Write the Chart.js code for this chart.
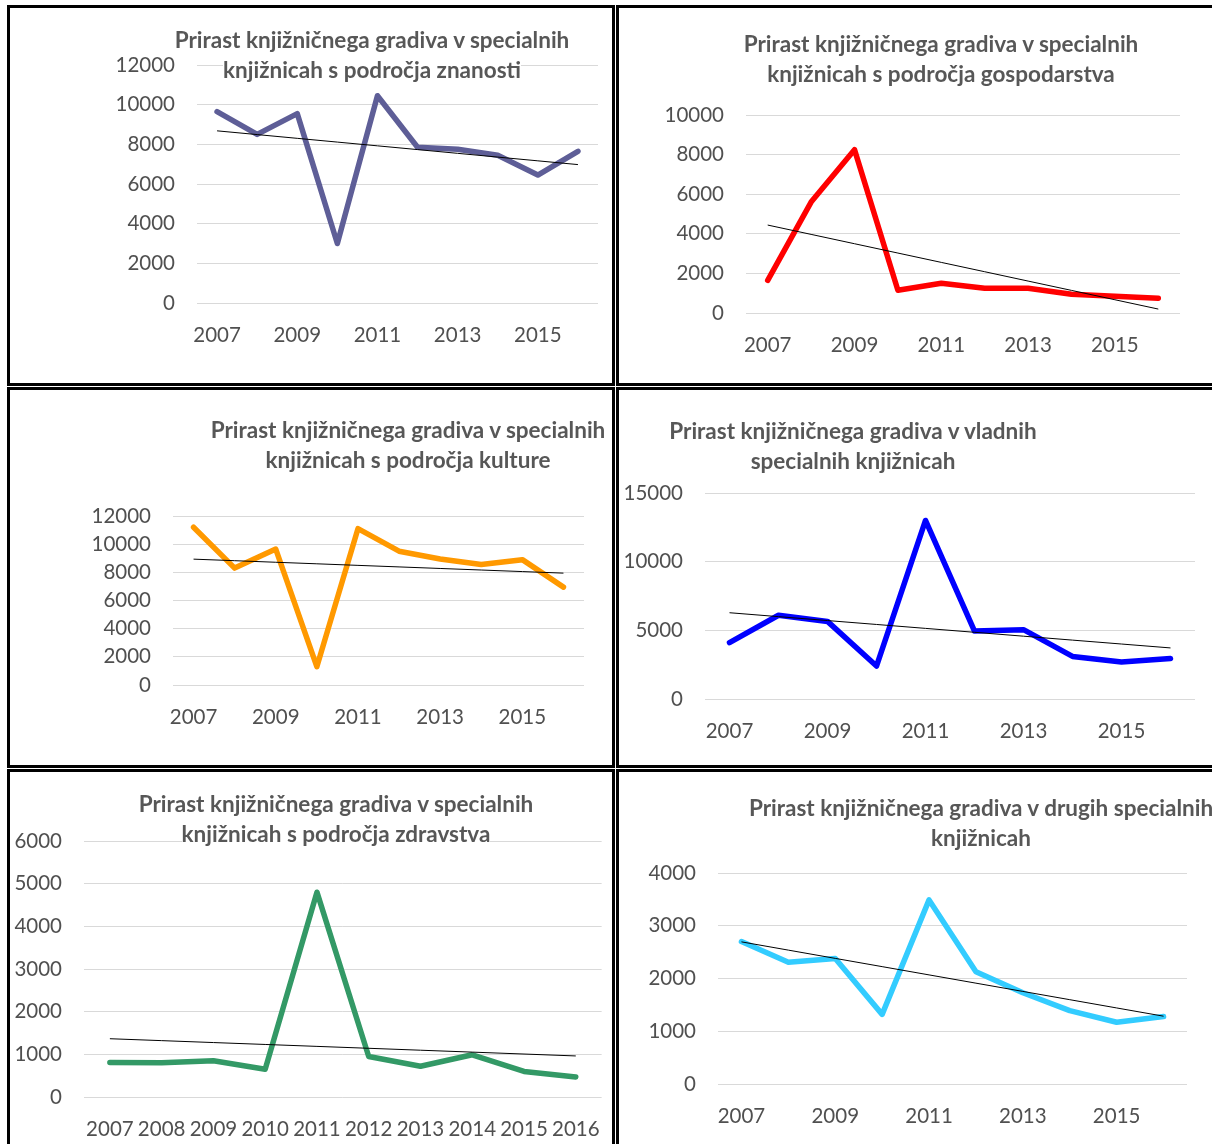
<!DOCTYPE html>
<html>
<head>
<meta charset="utf-8">
<script src="https://cdn.jsdelivr.net/npm/chart.js@4.4.1/dist/chart.umd.min.js"></script>
<style>
  html, body { margin: 0; padding: 0; width: 1212px; height: 1144px; overflow: hidden; background: #fff; }
  .okvir { position: absolute; box-sizing: border-box; border: 3px solid #000; width: 608px; height: 381px; }
  canvas { position: absolute; }
  .naslov { position: absolute; width: 700px; text-align: center; font: bold 22.5px Lato, sans-serif;
            color: #575757; line-height: 29.5px; white-space: nowrap; }
  .naslov span { background: #fff; }
</style>
</head>
<body>
<script>
// leta na kategorijski osi
const leta = ["2007", "2008", "2009", "2010", "2011", "2012", "2013", "2014", "2015", "2016"];

// prirast gradiva po vrsti specialnih knjižnic
const znanost      = [9650, 8500, 9550, 3000, 10450, 7850, 7750, 7450, 6450, 7650];
const gospodarstvo = [1650, 5600, 8250, 1150, 1500, 1250, 1250, 950, 850, 750];
const kultura      = [11200, 8300, 9650, 1300, 11100, 9500, 8950, 8550, 8900, 6950];
const vladne       = [4100, 6100, 5650, 2400, 13000, 4950, 5050, 3100, 2700, 2950];
const zdravstvo    = [810, 800, 850, 650, 4800, 950, 720, 990, 600, 470];
const druge        = [2700, 2310, 2380, 1320, 3490, 2130, 1730, 1390, 1170, 1280];

// oznake na y osi
const osZnanost      = [0, 2000, 4000, 6000, 8000, 10000, 12000];
const osGospodarstvo = [0, 2000, 4000, 6000, 8000, 10000];
const osKultura      = [0, 2000, 4000, 6000, 8000, 10000, 12000];
const osVladne       = [0, 5000, 10000, 15000];
const osZdravstvo    = [0, 1000, 2000, 3000, 4000, 5000, 6000];
const osDruge        = [0, 1000, 2000, 3000, 4000];

const naslovi = [
  ["Prirast knjižničnega gradiva v specialnih", "knjižnicah s področja znanosti"],
  ["Prirast knjižničnega gradiva v specialnih", "knjižnicah s področja gospodarstva"],
  ["Prirast knjižničnega gradiva v specialnih", "knjižnicah s področja kulture"],
  ["Prirast knjižničnega gradiva v vladnih", "specialnih knjižnicah"],
  ["Prirast knjižničnega gradiva v specialnih", "knjižnicah s področja zdravstva"],
  ["Prirast knjižničnega gradiva v drugih specialnih", "knjižnicah"]
];

// postavitev posameznih grafov na strani
const plosce = [
  { vrednosti: znanost,      os: osZnanost,      barva: "#5e5e97", x: 7,   y: 5,   levo: 197, desno: 598,  zgoraj: 65,  spodaj: 303,  tx: 372, ty: 40,  vsa: false },
  { vrednosti: gospodarstvo, os: osGospodarstvo, barva: "#ff0000", x: 616, y: 5,   levo: 746, desno: 1180, zgoraj: 115, spodaj: 313,  tx: 941, ty: 44,  vsa: false },
  { vrednosti: kultura,      os: osKultura,      barva: "#ff9900", x: 7,   y: 387, levo: 173, desno: 584,  zgoraj: 516, spodaj: 685,  tx: 408, ty: 430, vsa: false },
  { vrednosti: vladne,       os: osVladne,       barva: "#0000ff", x: 616, y: 387, levo: 705, desno: 1195, zgoraj: 493, spodaj: 699,  tx: 853, ty: 431, vsa: false },
  { vrednosti: zdravstvo,    os: osZdravstvo,    barva: "#339966", x: 7,   y: 769, levo: 84,  desno: 603,  zgoraj: 841, spodaj: 1097, tx: 336, ty: 804, vsa: true },
  { vrednosti: druge,        os: osDruge,        barva: "#33ccff", x: 616, y: 769, levo: 718, desno: 1187, zgoraj: 873, spodaj: 1084, tx: 981, ty: 808, vsa: false }
];

const pisava = { family: "Lato, sans-serif", size: 20.5 };
const barvaBesedila = "#505050";

// linearni trend (najmanjši kvadrati), kot ga nariše Excel
function trend(y) {
  const n = y.length;
  const mx = (n - 1) / 2;
  const my = y.reduce((a, b) => a + b, 0) / n;
  let sxy = 0, sxx = 0;
  y.forEach((v, i) => { sxy += (i - mx) * (v - my); sxx += (i - mx) * (i - mx); });
  const k = sxy / sxx;
  return y.map((_, i) => my + k * (i - mx));
}

plosce.forEach((p, idx) => {
  const okvir = document.createElement("div");
  okvir.className = "okvir";
  okvir.style.left = p.x + "px";
  okvir.style.top = p.y + "px";
  document.body.appendChild(okvir);

  const cx = p.x + 3, cy = p.y + 3, w = 602, h = 375;
  const canvas = document.createElement("canvas");
  canvas.width = w;
  canvas.height = h;
  canvas.style.left = cx + "px";
  canvas.style.top = cy + "px";
  document.body.appendChild(canvas);

  new Chart(canvas, {
    type: "line",
    data: {
      labels: leta,
      datasets: [
        { data: trend(p.vrednosti), borderColor: "#000", borderWidth: 1, pointRadius: 0 },
        { data: p.vrednosti, borderColor: p.barva, borderWidth: 5.5, pointRadius: 0,
          borderJoinStyle: "round", borderCapStyle: "round" }
      ]
    },
    options: {
      responsive: false,
      animation: false,
      layout: { padding: { top: p.zgoraj - cy, right: cx + w - p.desno, left: 0, bottom: 0 } },
      plugins: { legend: { display: false }, tooltip: { enabled: false } },
      scales: {
        x: {
          offset: true,
          grid: { display: false },
          border: { display: false },
          ticks: {
            color: barvaBesedila, font: pisava, padding: 12, maxRotation: 0, autoSkip: false,
            callback: (v, i) => (p.vsa || i % 2 === 0) ? leta[i] : ""
          },
          afterFit: s => { s.height = cy + h - p.spodaj; }
        },
        y: {
          min: p.os[0],
          max: p.os[p.os.length - 1],
          grid: { color: "#d9d9d9", drawTicks: false },
          border: { display: false },
          ticks: { stepSize: p.os[1] - p.os[0], padding: 22, color: barvaBesedila, font: pisava,
                   callback: v => String(v) },
          afterFit: s => { s.width = p.levo - cx; }
        }
      }
    }
  });

  const naslov = document.createElement("div");
  naslov.className = "naslov";
  naslov.style.left = (p.tx - 350) + "px";
  naslov.style.top = (p.ty - 14.75) + "px";
  naslov.innerHTML = "<span>" + naslovi[idx][0] + "</span><br><span>" + naslovi[idx][1] + "</span>";
  document.body.appendChild(naslov);
});
</script>
</body>
</html>
